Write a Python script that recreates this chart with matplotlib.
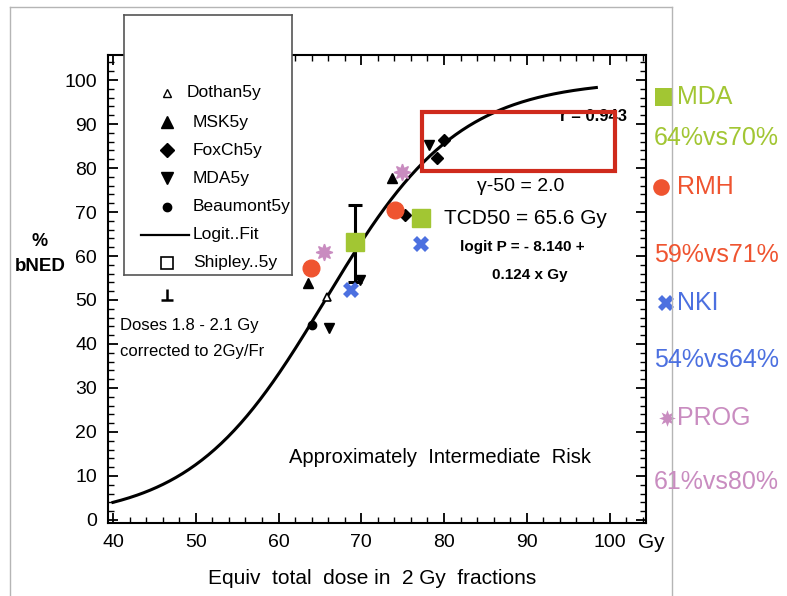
import numpy as np
import matplotlib.pyplot as plt
from matplotlib.lines import Line2D
from matplotlib.patches import Rectangle
from matplotlib.ticker import MultipleLocator

plt.rcParams['font.family'] = ['Liberation Sans', 'DejaVu Sans']

W, H = 787, 596

# logit fit given on the chart: logit P = -8.140 + 0.124 x Gy
logit_b0 = -8.140
logit_b1 = 0.124
fit_start, fit_end = 40, 98.4

# black study points (dose Gy, % bNED)
dothan_dose = [65.8]
dothan_bned = [50.7]
msk_dose = [63.6, 73.7]
msk_bned = [53.9, 77.7]
foxch_dose = [75.3, 79.2, 80.0]
foxch_bned = [69.3, 82.3, 86.4]
mda5_dose = [66.1, 69.9, 78.2]
mda5_bned = [43.6, 54.5, 85.2]
beaumont_dose = [64.0]
beaumont_bned = [44.3]

# coloured overlays: low dose arm, high dose arm
mda_dose = [69.3, 77.2]
mda_bned = [63.2, 68.6]
rmh_dose = [63.9, 74.1]
rmh_bned = [57.3, 70.5]
nki_dose = [68.7, 77.2]
nki_bned = [52.3, 62.7]
prog_dose = [65.5, 74.9]
prog_bned = [60.9, 79.0]

# error bar on the MDA low dose point
err_dose = [69.3]
err_mid = [63.2]
err_low = [54.1]
err_high = [71.6]

legend_labels = ['Dothan5y', 'MSK5y', 'FoxCh5y', 'MDA5y', 'Beaumont5y', 'Logit..Fit', 'Shipley..5y']
side_names = ['MDA', 'RMH', 'NKI', 'PROG']
side_values = ['64%vs70%', '59%vs71%', '54%vs64%', '61%vs80%']

green = '#a2c633'
red = '#ef5430'
blue = '#4c70e0'
pink = '#c98cc0'
side_colors = [green, red, blue, pink]


def fx(x):
    return x / W


def fy(y):
    return 1 - y / H


fig = plt.figure(figsize=(W / 100, H / 100), dpi=100)
ax = fig.add_axes([fx(108), fy(523), (646 - 108) / W, (523 - 55) / H])

dose = np.linspace(fit_start, fit_end, 300)
p = 100 / (1 + np.exp(-(logit_b0 + logit_b1 * dose)))
ax.plot(dose, p, color='black', lw=2.2, zorder=2)

ax.errorbar(err_dose, err_mid,
            yerr=[np.subtract(err_mid, err_low), np.subtract(err_high, err_mid)],
            fmt='none', ecolor='black', elinewidth=2.2, capsize=5, capthick=2.2, zorder=2)

ax.plot(dothan_dose, dothan_bned, ls='none', marker='^', mfc='white', mec='black', ms=6, mew=1.2, zorder=3)
ax.plot(msk_dose, msk_bned, ls='none', marker='^', color='black', ms=7.5, zorder=3)
ax.plot(foxch_dose, foxch_bned, ls='none', marker='D', color='black', ms=6.5, zorder=3)
ax.plot(mda5_dose, mda5_bned, ls='none', marker='v', color='black', ms=7.5, zorder=3)
ax.plot(beaumont_dose, beaumont_bned, ls='none', marker='o', color='black', ms=6, zorder=3)

ax.plot(mda_dose, mda_bned, ls='none', marker='s', color=green, ms=13, zorder=4)
ax.plot(rmh_dose, rmh_bned, ls='none', marker='o', color=red, ms=12, zorder=4)
ax.plot(nki_dose, nki_bned, ls='none', marker='X', color=blue, ms=12, mew=0, zorder=4)
ax.plot(prog_dose, prog_bned, ls='none', marker=(8, 1, 0), color=pink, ms=12, zorder=4)

ax.set_xlim(39.4, 104.4)
ax.set_ylim(-0.7, 105.7)
ax.set_xticks(range(40, 101, 10))
ax.set_yticks(range(0, 101, 10))
ax.xaxis.set_minor_locator(MultipleLocator(2))
ax.yaxis.set_minor_locator(MultipleLocator(2))
ax.tick_params(which='both', direction='in', top=True, right=True)
ax.tick_params(which='major', length=7, width=1.3, labelsize=14, pad=8)
ax.tick_params(which='minor', length=4, width=1)
for sp in ax.spines.values():
    sp.set_linewidth(1.5)

# annotations inside the plot
ax.text(98.1, 91.8, 'r = 0.943', ha='center', va='center', fontsize=12, fontweight='bold', zorder=5)
ax.text(89.2, 75.7, 'γ-50 = 2.0', ha='center', va='center', fontsize=14)
ax.text(89.8, 68.6, 'TCD50 = 65.6 Gy', ha='center', va='center', fontsize=15)
ax.text(89.4, 62.0, 'logit P = - 8.140 +', ha='center', va='center', fontsize=11, fontweight='bold')
ax.text(90.4, 55.7, '0.124 x Gy', ha='center', va='center', fontsize=11, fontweight='bold')
ax.text(79.5, 14.3, 'Approximately  Intermediate  Risk', ha='center', va='center', fontsize=14.5)
ax.text(40.85, 44.1, 'Doses 1.8 - 2.1 Gy', ha='left', va='center', fontsize=12)
ax.text(40.85, 38.2, 'corrected to 2Gy/Fr', ha='left', va='center', fontsize=12)
ax.plot([46.5], [50], ls='none', marker='_', color='black', ms=8, mew=1.8, zorder=3)
ax.plot([46.5], [50], ls='none', marker=2, color='black', ms=8, mew=1.8, zorder=3)

ax.add_patch(Rectangle((77.3, 79.3), 23.3, 13.4, fill=False, ec='#cf2a1c', lw=3,
                       zorder=6, clip_on=False))

# legend box, partly above the axes
lax = fig.add_axes([fx(124), fy(275), 168 / W, 260 / H], zorder=3)
lax.set_xlim(124, 292)
lax.set_ylim(275, 15)
lax.set_xticks([])
lax.set_yticks([])
for sp in lax.spines.values():
    sp.set_color('#555555')
    sp.set_linewidth(1.2)

rows = [93, 122, 150, 178, 207, 235, 263]
mx = 167
lax.plot([mx], [rows[0]], marker='^', mfc='white', mec='black', ms=6, mew=1)
lax.plot([mx], [rows[1]], marker='^', color='black', ms=8)
lax.plot([mx], [rows[2]], marker='D', color='black', ms=7)
lax.plot([mx], [rows[3]], marker='v', color='black', ms=8)
lax.plot([mx], [rows[4]], marker='o', color='black', ms=6)
lax.plot([141, 189], [rows[5], rows[5]], color='black', lw=1.6)
lax.plot([mx], [rows[6]], marker='s', mfc='white', mec='black', ms=8, mew=1.2)
for i, lab in enumerate(legend_labels):
    tx = 187 if i == 0 else 193
    lax.text(tx, rows[i], lab, ha='left', va='center', fontsize=12.5)

# axis labels
fig.text(fx(40), fy(241), '%', ha='center', va='center', fontsize=13, fontweight='bold')
fig.text(fx(40), fy(266), 'bNED', ha='center', va='center', fontsize=13.5, fontweight='bold')
fig.text(fx(372), fy(578), 'Equiv  total  dose in  2 Gy  fractions', ha='center', va='center', fontsize=15)
fig.text(fx(651), fy(543), 'Gy', ha='center', va='center', fontsize=15)

# side labels
name_y = [97, 187, 303, 418]
value_y = [138, 255, 360, 482]
side_markers = [('s', 13), ('o', 12), ('X', 12), ((8, 1, 0), 12)]
marker_x = [664, 661, 666, 667]
for i in range(4):
    m, s = side_markers[i]
    fig.add_artist(Line2D([fx(marker_x[i])], [fy(name_y[i])], ls='none', marker=m, ms=s,
                          color=side_colors[i], mew=0))
    fig.text(fx(677), fy(name_y[i]), side_names[i], ha='left', va='center',
             fontsize=18, color=side_colors[i])
    fig.text(fx(654), fy(value_y[i]), side_values[i], ha='left', va='center',
             fontsize=18, color=side_colors[i])

# frame of the pasted figure
border = '#b5b5b5'
fig.add_artist(Line2D([fx(10), fx(672)], [fy(7), fy(7)], color=border, lw=1))
fig.add_artist(Line2D([fx(10), fx(10)], [fy(7), 0], color=border, lw=1))
fig.add_artist(Line2D([fx(672), fx(672)], [fy(7), 0], color=border, lw=1))

fig.savefig('out.png', dpi=100)
